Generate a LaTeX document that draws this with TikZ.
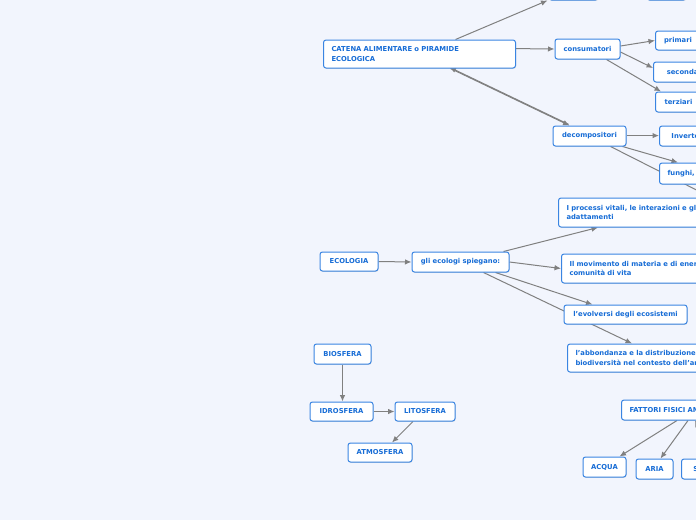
\documentclass[tikz,border=0pt]{standalone}
\usepackage{fontspec}
\setmainfont{DejaVu Sans}
\usetikzlibrary{arrows.meta, shadows}
\definecolor{mapblue}{RGB}{58,133,226}
\definecolor{mapink}{RGB}{22,108,214}
\definecolor{mapbg}{RGB}{242,245,253}
\definecolor{mapgray}{RGB}{128,128,128}
\pgfdeclarelayer{paper}
\pgfdeclarelayer{links}
\pgfsetlayers{paper,links,main}

\begin{document}
\begin{tikzpicture}[x=1pt, y=-1pt,
  cbox/.style={draw=mapblue, fill=white, rounded corners=2.5pt, line width=1pt, text=mapink, font=\fontsize{6.8}{9.3}\selectfont\bfseries, inner xsep=8pt, inner ysep=0pt, minimum height=20pt, drop shadow={shadow xshift=0.5pt, shadow yshift=-0.8pt, opacity=0.25}},
  tbox/.style={cbox, anchor=west, align=left, text width=#1},
  link/.style={draw=mapgray, line width=1pt, -{Latex[length=6.5pt, width=5.5pt]}}
]
  \useasboundingbox (0,0) rectangle (696,520);
  \begin{pgfonlayer}{paper}
    \fill[mapbg] (0,0) rectangle (696,520);
  \end{pgfonlayer}

  % catena alimentare
  \node[tbox=176pt, minimum height=28pt] (catena) at (323,54) {CATENA ALIMENTARE o PIRAMIDE\\ECOLOGICA};
  \node[cbox, minimum width=49pt] (top1) at (573.5,-10) {};
  \node[cbox, minimum width=39pt] (top2) at (666.5,-10) {};
  \node[cbox, minimum width=65pt] (consumatori) at (587.5,49) {consumatori};
  \node[cbox, anchor=west, minimum width=45pt, minimum height=19pt] (primari) at (655,40.5) {primari};
  \node[cbox, anchor=west, minimum width=64pt] (secondari) at (653,72) {secondari};
  \node[cbox, anchor=west, minimum width=46pt] (terziari) at (655,102) {terziari};
  \node[cbox, minimum width=73pt] (decompositori) at (589.5,136) {decompositori};
  \node[cbox, anchor=west, minimum width=70pt] (inverte) at (659,136) {Invertebrati};
  \node[tbox=80pt, minimum height=21pt] (funghi) at (659,173.5) {funghi, batteri};

  % ecologia
  \node[cbox, minimum width=58pt, minimum height=19pt] (ecologia) at (349,261.5) {ECOLOGIA};
  \node[cbox, minimum width=97pt] (ecologi) at (460.5,262) {gli ecologi spiegano:};
  \node[tbox=200pt, minimum height=29pt] (processi) at (558,212.5) {I processi vitali, le interazioni e gli\\adattamenti};
  \node[tbox=200pt, minimum height=29pt] (movimento) at (561,268.5) {Il movimento di materia e di energia nelle\\comunità di vita};
  \node[cbox, minimum width=123pt, minimum height=19pt] (evolversi) at (625.5,314.5) {l'evolversi degli ecosistemi};
  \node[tbox=200pt, minimum height=28pt] (abbondanza) at (567,358) {l'abbondanza e la distribuzione della\\biodiversità nel contesto dell'ambiente};

  % sfere
  \node[cbox, minimum width=57pt] (biosfera) at (342.5,354) {BIOSFERA};
  \node[cbox, minimum width=63pt, minimum height=19pt] (idrosfera) at (341.5,411.5) {IDROSFERA};
  \node[cbox, minimum width=60pt, minimum height=19pt] (litosfera) at (425,411.5) {LITOSFERA};
  \node[cbox, minimum width=64pt, minimum height=19pt] (atmosfera) at (380,452.5) {ATMOSFERA};

  % fattori fisici
  \node[tbox=120pt] (fattori) at (621,410) {FATTORI FISICI AMBIENTALI};
  \node[cbox, minimum width=43pt] (acqua) at (604.5,467) {ACQUA};
  \node[cbox, minimum width=37pt] (aria) at (654.5,469) {ARIA};
  \node[cbox, anchor=west, minimum width=50pt] (suolo) at (681,469) {SUOLO};
  \coordinate (fuori1) at (742,213);
  \coordinate (fuori2) at (715,462);

  \begin{pgfonlayer}{links}
    \draw[link] ([xshift=36pt]catena.north) -- ([xshift=-1pt]top1.south west);
    \draw[link] ([yshift=0.4pt]catena.east |- consumatori.west) -- (consumatori.west);
    \draw[link] ([yshift=3pt]consumatori.east) -- (primari.west);
    \draw[link] ([yshift=-3pt]consumatori.east) -- ([yshift=4pt]secondari.west);
    \draw[link] ([xshift=19pt]consumatori.south) -- ([xshift=6pt]terziari.north west);
    \draw[link] ([xshift=31pt]catena.south) -- ([xshift=-20pt]decompositori.north);
    \draw[link] ([xshift=-21pt, yshift=1.2pt]decompositori.north) -- ([xshift=30pt, yshift=1.2pt]catena.south);
    \draw[link] ([yshift=0.4pt]decompositori.east) -- ([yshift=0.4pt]inverte.west);
    \draw[link] ([xshift=-4pt]decompositori.south east) -- ([xshift=19pt]funghi.north west);
    \draw[draw=mapgray, line width=1pt] ([xshift=21pt]decompositori.south) -- (fuori1);

    \draw[link] (ecologia.east) -- (ecologi.west);
    \draw[link] ([xshift=43pt]ecologi.north) -- ([xshift=40pt]processi.south west);
    \draw[link] (ecologi.east) -- (movimento.west);
    \draw[link] ([xshift=35pt]ecologi.south) -- ([xshift=29pt]evolversi.north west);
    \draw[link] ([xshift=23pt]ecologi.south) -- ([xshift=65pt]abbondanza.north west);

    \draw[link] (biosfera.south) -- (idrosfera.north -| biosfera.south);
    \draw[link] (idrosfera.east) -- (litosfera.west);
    \draw[link] ([xshift=-12pt]litosfera.south) -- ([xshift=12pt]atmosfera.north);

    \draw[link] ([xshift=56pt]fattori.south west) -- ([xshift=37pt]acqua.north west);
    \draw[link] ([xshift=67pt]fattori.south west) -- ([xshift=25pt]aria.north west);
    \draw[link] (fuori2) -- ([xshift=74pt]fattori.south west);
  \end{pgfonlayer}
\end{tikzpicture}
\end{document}
